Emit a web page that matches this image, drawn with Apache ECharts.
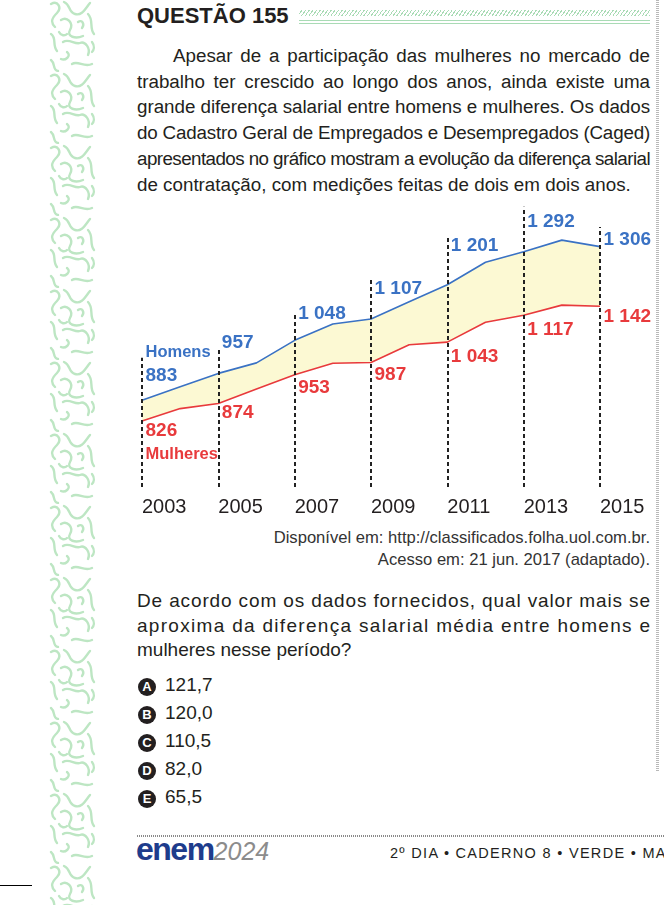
<!DOCTYPE html>
<html>

<head>
    <meta charset="utf-8">
    <title>Questão 155</title>
    <script src="https://cdn.jsdelivr.net/npm/echarts@6.0.0/dist/echarts.min.js"></script>
    <style>
        body { margin: 0; }
        #page { position: relative; width: 664px; height: 905px; overflow: hidden; background: #fff;
            font-family: 'Liberation Sans', Arial, sans-serif; color: #231f20; }
        .abs { position: absolute; }
        .strip { left: 48px; top: 0; width: 49px; height: 905px;
            background-image: url("data:image/svg+xml,%3Csvg xmlns='http://www.w3.org/2000/svg' width='49' height='72'%3E%3Cg fill='none' stroke='%23bde6c3' stroke-width='2.4' stroke-linecap='round'%3E%3Cpath d='M3 4 C10 0 14 8 9 13 S2 22 7 27'/%3E%3Cpath d='M16 2 C23 5 20 12 27 14 S37 9 42 3'/%3E%3Cpath d='M13 20 C19 16 26 23 22 30 S28 39 35 36'/%3E%3Cpath d='M40 14 C46 20 41 28 46 34'/%3E%3Cpath d='M30 22 C34 19 37 24 34 28'/%3E%3Cpath d='M3 34 C9 38 4 45 9 51'/%3E%3Cpath d='M15 42 C21 38 27 45 32 43 S43 48 40 55'/%3E%3Cpath d='M19 52 C24 56 17 61 13 59'/%3E%3Cpath d='M3 60 C8 64 4 70 10 71'/%3E%3Cpath d='M24 64 C30 60 36 68 44 64'/%3E%3Cpath d='M44 42 C47 46 46 50 44 52'/%3E%3Cpath d='M11 32 C13 36 17 36 19 34'/%3E%3C/g%3E%3C/svg%3E"); }
        .title { left: 137px; top: 3px; font-size: 22px; font-weight: bold; line-height: 26px; }
        .hatch { left: 299px; top: 10px; width: 351px; height: 6px;
            background: repeating-linear-gradient(-55deg, #a9dbb5 0 1px, transparent 1px 3px); }
        .rule { left: 299px; top: 20px; width: 351px; height: 2px; border-top: 1.5px solid #a9dbb5; border-bottom: 1.5px solid #a9dbb5; }
        .para { left: 137px; top: 43px; width: 513px; font-size: 18.8px; line-height: 25.7px; }
        .ln { white-space: nowrap; }
        .src { left: 150px; width: 500px; top: 527px; text-align: right; font-size: 16.6px; line-height: 21.5px; color: #333; }
        .quest { left: 137px; top: 589px; width: 513px; font-size: 19px; line-height: 24.6px; }
        .opt { left: 138px; font-size: 19px; line-height: 26px; white-space: nowrap; }
        .opt b { display: inline-block; width: 18px; height: 18px; border-radius: 50%; background: #231f20; color: #fff;
            font-size: 13px; line-height: 18px; text-align: center; margin-right: 9px; vertical-align: 0px; }
        .micro { left: 137px; top: 835px; width: 527px; height: 2px;
            background: repeating-linear-gradient(90deg, #8a8a8a 0 1px, transparent 1px 2px); }
        .vcol { left: 656px; top: 0; width: 3px; height: 772px; opacity: 0.6;
            background: repeating-linear-gradient(180deg, #8a8a8a 0 1px, transparent 1px 2px); }
        .logo { left: 136px; top: 832px; white-space: nowrap; line-height: 34px; }
        .logo .e { font-size: 32px; font-weight: bold; color: #1e3c8c; letter-spacing: -1.5px; }
        .logo .y { font-size: 25px; font-style: italic; color: #8c8c8c; }
        .foot { left: 390px; top: 845px; font-size: 14.5px; letter-spacing: 1.3px; white-space: nowrap; }
        .cut { left: 0; top: 885px; width: 32px; height: 1px; background: #000; }
        #chart { position: absolute; left: 0; top: 0; width: 664px; height: 905px; }
    </style>
</head>

<body>
    <div id="page">
        <div class="abs strip"></div>
        <div class="abs vcol"></div>
        <div class="abs title">QUESTÃO 155</div>
        <div class="abs hatch"></div>
        <div class="abs rule"></div>

        <div class="abs para">
            <div class="ln fit" style="padding-left:36px"><span>Apesar de a participação das mulheres no mercado de</span></div>
            <div class="ln fit"><span>trabalho ter crescido ao longo dos anos, ainda existe uma</span></div>
            <div class="ln fit"><span>grande diferença salarial entre homens e mulheres. Os dados</span></div>
            <div class="ln fit"><span>do Cadastro Geral de Empregados e Desempregados (Caged)</span></div>
            <div class="ln fit"><span>apresentados no gráfico mostram a evolução da diferença salarial</span></div>
            <div class="ln"><span>de contratação, com medições feitas de dois em dois anos.</span></div>
        </div>

        <div class="abs src">
            <div>Disponível em: http://classificados.folha.uol.com.br.</div>
            <div>Acesso em: 21 jun. 2017 (adaptado).</div>
        </div>

        <div class="abs quest">
            <div class="ln spread"><span>De acordo com os dados fornecidos, qual valor mais se</span></div>
            <div class="ln spread"><span>aproxima da diferença salarial média entre homens e</span></div>
            <div class="ln"><span>mulheres nesse período?</span></div>
        </div>

        <div class="abs opt" style="top:672px"><b>A</b>121,7</div>
        <div class="abs opt" style="top:700px"><b>B</b>120,0</div>
        <div class="abs opt" style="top:728px"><b>C</b>110,5</div>
        <div class="abs opt" style="top:756px"><b>D</b>82,0</div>
        <div class="abs opt" style="top:784px"><b>E</b>65,5</div>

        <div class="abs micro"></div>
        <div class="abs logo"><span class="e">enem</span><span class="y">2024</span></div>
        <div class="abs foot">2º DIA • CADERNO 8 • VERDE • MATEMÁTICA E SUAS TECNOLOGIAS</div>
        <div class="abs cut"></div>

        <div id="chart"></div>
    </div>

    <script type="text/javascript">
        // data (odd years are the printed values)
        var years = ['2003', '2004', '2005', '2006', '2007', '2008', '2009', '2010', '2011', '2012', '2013', '2014', '2015'];
        var homens = [883, 920, 957, 986, 1048, 1093, 1107, 1154, 1201, 1263, 1292, 1324, 1306];
        var mulheres = [826, 860, 874, 914, 953, 985, 987, 1036, 1043, 1098, 1117, 1145, 1142];
        // top of each dashed guide (odd years), in salary units
        var guideTop = [1000, 1027, 1124, 1214, 1338, 1416, 1360];
        var guideBottom = 644;

        // label vertical offsets (px) for odd years
        var blueDy = [-36, -31, -27, -30, -39, -30, -7];
        var redDy = [21, 9, 13, 12, 14.5, 14.5, 11];

        var BLUE = '#3a72c4', RED = '#e83a3c', FONT = "'Liberation Sans', Arial, sans-serif";

        function fmt(v) {
            return v >= 1000 ? Math.floor(v / 1000) + ' ' + String(v % 1000).padStart(3, '0') : String(v);
        }

        function lineData(values, dys, color, first) {
            return values.map(function (v, i) {
                if (i % 2) return { value: v, label: { show: false } };
                var k = i / 2;
                var text = '{v|' + fmt(v) + '}';
                if (k === 0) text = first(text);
                return {
                    value: v,
                    label: {
                        show: true, position: 'right', distance: 3, offset: [0, dys[k]],
                        formatter: text,
                        rich: {
                            v: { color: color, fontSize: 19, fontWeight: 'bold', fontFamily: FONT, lineHeight: 24 },
                            n: { color: color, fontSize: 16.5, fontWeight: 'bold', fontFamily: FONT, lineHeight: 23 }
                        }
                    }
                };
            });
        }

        var guides = [];
        for (var k = 0; k < guideTop.length; k++) {
            guides.push([{ coord: [years[k * 2], guideBottom] }, { coord: [years[k * 2], guideTop[k]] }]);
        }

        var chart = echarts.init(document.getElementById('chart'), null, { renderer: 'canvas' });
        chart.setOption({
            animation: false,
            backgroundColor: 'transparent',
            grid: { left: 142, top: 198, width: 458, height: 290.5 },
            xAxis: {
                type: 'category', data: years, boundaryGap: false,
                axisLine: { show: false }, axisTick: { show: false }, splitLine: { show: false },
                axisLabel: { interval: 1, align: 'left', margin: 9, fontSize: 20, color: '#231f20', fontFamily: FONT }
            },
            yAxis: { type: 'value', min: 640, max: 1440, show: false },
            series: [
                {
                    type: 'line', stack: 'gap', data: mulheres, symbol: 'none', silent: true,
                    lineStyle: { width: 0 }, z: 1
                },
                {
                    type: 'line', stack: 'gap', symbol: 'none', silent: true,
                    data: homens.map(function (v, i) { return v - mulheres[i]; }),
                    lineStyle: { width: 0 }, areaStyle: { color: '#fcf9d3', opacity: 1 }, z: 1,
                    markLine: {
                        silent: true, symbol: ['none', 'none'], label: { show: false },
                        lineStyle: { color: '#222', width: 2, type: [4, 3] },
                        data: guides
                    }
                },
                {
                    name: 'Homens', type: 'line', symbol: 'circle', symbolSize: 1, z: 3,
                    itemStyle: { color: 'rgba(0,0,0,0)' },
                    lineStyle: { color: BLUE, width: 1.6 },
                    data: lineData(homens, blueDy, BLUE, function (t) { return '{n|Homens}\n' + t; })
                },
                {
                    name: 'Mulheres', type: 'line', symbol: 'circle', symbolSize: 1, z: 3,
                    itemStyle: { color: 'rgba(0,0,0,0)' },
                    lineStyle: { color: RED, width: 1.6 },
                    data: lineData(mulheres, redDy, RED, function (t) { return t + '\n{n|Mulheres}'; })
                }
            ]
        });

        // fit the justified text lines to the column width
        function fitLines(selector, spread) {
            document.querySelectorAll(selector).forEach(function (div) {
                var span = div.firstChild;
                var W = div.clientWidth - parseFloat(getComputedStyle(div).paddingLeft || 0);
                var w = span.getBoundingClientRect().width;
                var n = span.textContent.length;
                if (w > W) {
                    span.style.letterSpacing = ((W - w) / n) + 'px';
                } else if (spread) {
                    span.style.letterSpacing = ((W - w) / (n - 1)) + 'px';
                }
                div.style.textAlign = 'justify';
                div.style.textAlignLast = 'justify';
            });
        }
        fitLines('.para .fit', false);
        fitLines('.quest .spread', true);
    </script>
</body>

</html>
